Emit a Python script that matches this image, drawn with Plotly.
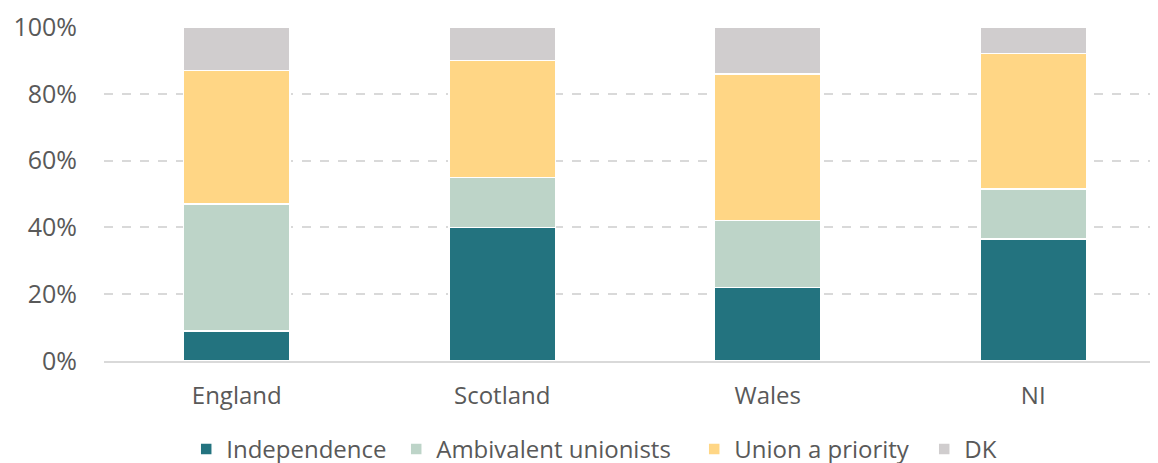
import plotly.graph_objects as go

# Share of respondents by nation (%)
nations = ['England', 'Scotland', 'Wales', 'NI']
independence = [9, 40, 22, 36.5]
ambivalent = [38, 15, 20, 15]
union_priority = [40, 35, 44, 40.5]
dont_know = [13, 10, 14, 8]

series = [
    ('Independence', independence, '#23737f', 165),
    ('Ambivalent unionists', ambivalent, '#bdd4c8', 253),
    ('Union a priority', union_priority, '#ffd685', 185),
    ('DK', dont_know, '#d0cdce', 40),
]

fig = go.Figure()
for name, vals, col, lw in series:
    fig.add_trace(go.Bar(
        x=nations,
        y=vals,
        name=name,
        width=0.4,
        legendwidth=lw,
        marker=dict(color=col, line=dict(color='white', width=1.5)),
    ))

# page body has an 8px margin, so the figure is sized and offset for it
fig.update_layout(
    barmode='stack',
    width=1150,
    height=455,
    margin=dict(l=96, r=0, t=18, b=102, autoexpand=False),
    plot_bgcolor='white',
    paper_bgcolor='white',
    font=dict(family='Open Sans', size=24, color='#595959'),
    legend=dict(
        orientation='h',
        x=0.078, xanchor='left',
        y=-0.264, yanchor='middle',
        font=dict(size=24, color='#595959'),
        traceorder='normal',
        itemwidth=30,
    ),
    xaxis=dict(
        range=[-0.5, 3.47],
        showgrid=False,
        showline=True,
        linecolor='#d9d9d9',
        linewidth=2,
        ticks='',
        ticklabelstandoff=12,
        tickfont=dict(size=24, color='#595959'),
        automargin=False,
    ),
    yaxis=dict(
        range=[0, 100.3],
        tickvals=[0, 20, 40, 60, 80, 100],
        ticktext=['0%', '20%', '40%', '60%', '80%', '100%'],
        showgrid=True,
        gridcolor='#d9d9d9',
        griddash='dash',
        gridwidth=1.5,
        zeroline=False,
        ticklabelstandoff=26,
        tickfont=dict(size=25, color='#595959'),
        automargin=False,
    ),
)

fig.write_html('out.html')
